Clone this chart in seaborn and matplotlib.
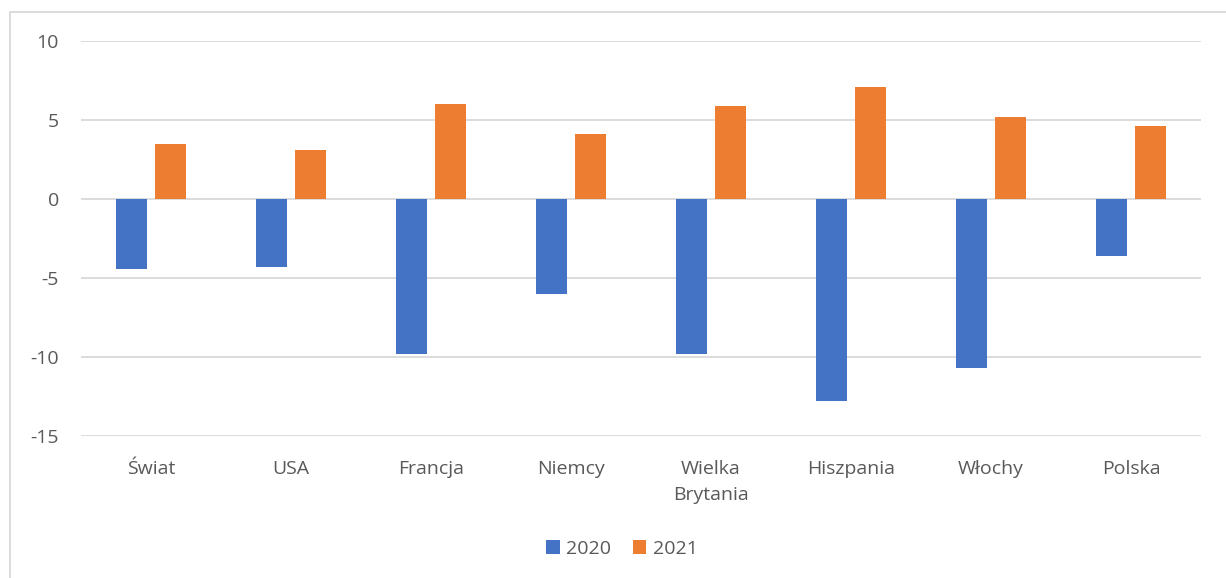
import matplotlib
matplotlib.use("Agg")
import matplotlib.pyplot as plt
from matplotlib.patches import Rectangle, Patch
import pandas as pd
import seaborn as sns

# GDP change (%) by country, 2020 and 2021
categories = ["Świat", "USA", "Francja", "Niemcy", "Wielka\nBrytania",
              "Hiszpania", "Włochy", "Polska"]
values_2020 = [-4.4, -4.3, -9.8, -6.0, -9.8, -12.8, -10.7, -3.6]
values_2021 = [3.5, 3.1, 6.0, 4.1, 5.9, 7.1, 5.2, 4.6]
years = ["2020", "2021"]
y_ticks = [-15, -10, -5, 0, 5, 10]

colors = {"2020": "#4472C4", "2021": "#ED7D31"}
text_color = "#595959"
grid_color = "#D9D9D9"

df = pd.DataFrame({
    "kraj": categories * 2,
    "rok": [years[0]] * len(categories) + [years[1]] * len(categories),
    "wartość": values_2020 + values_2021,
})

sns.set_theme(style="white")
plt.rcParams["font.family"] = ["Open Sans", "DejaVu Sans"]

fig = plt.figure(figsize=(12.26, 5.78), dpi=100)
ax = fig.add_axes([81 / 1226, 1 - 436 / 578, (1201 - 81) / 1226, (436 - 41) / 578])

sns.barplot(data=df, x="kraj", y="wartość", hue="rok", palette=colors,
            width=0.557, gap=0.18, ax=ax, legend=False, saturation=1,
            edgecolor="none")

ax.set_ylim(-15, 10)
ax.set_xlim(-0.5, len(categories) - 0.5)
ax.set_yticks(y_ticks)
ax.set_yticklabels([str(t) for t in y_ticks])
ax.yaxis.grid(True, color=grid_color, linewidth=1.3)
ax.set_axisbelow(True)
for s in ax.spines.values():
    s.set_visible(False)
ax.set_xlabel("")
ax.set_ylabel("")
ax.tick_params(axis="y", length=0, pad=16, labelsize=14, labelcolor=text_color)
ax.tick_params(axis="x", length=0, pad=17, labelsize=14, labelcolor=text_color)
for lbl in ax.get_xticklabels():
    lbl.set_linespacing(1.6)

# Legend under the plot
handles = [Patch(facecolor=colors[y], edgecolor="none") for y in years]
fig.legend(handles, years, loc="center", bbox_to_anchor=(622 / 1226, 1 - 549 / 578),
           ncol=2, frameon=False, fontsize=14, labelcolor=text_color,
           handlelength=0.7, handleheight=0.7, handletextpad=0.35, columnspacing=1.1)

# Chart area border
fig.patches.append(Rectangle((10 / 1226, -0.1), 1.2, 1 - 12 / 578 + 0.1,
                             transform=fig.transFigure, fill=False,
                             edgecolor=grid_color, linewidth=1.3))

fig.savefig("out.png", dpi=100)
